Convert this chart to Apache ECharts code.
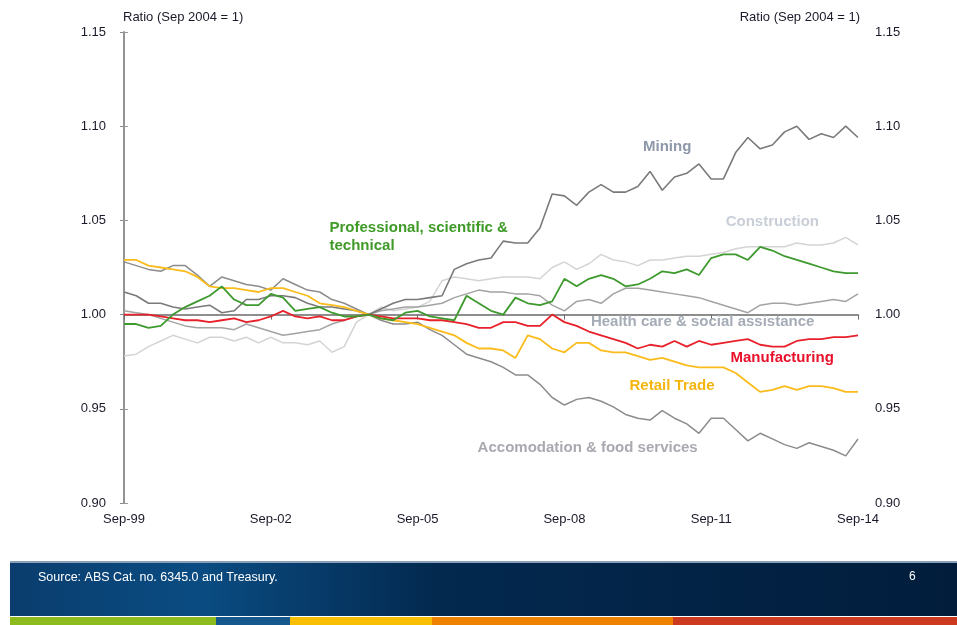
<!doctype html>
<html lang="en">
  <head>
    <meta charset="utf-8">
    <title>Industry ratio chart</title>
    <script src="https://cdn.jsdelivr.net/npm/echarts@6/dist/echarts.min.js"></script>
    <style>
      html, body { margin: 0; padding: 0; background: #fff; }
      #chart { width: 957px; height: 625px; }
    </style>
  </head>
  <body>
    <div id="chart"></div>
  <script>
    // quarterly labels, Sep-99 .. Sep-14 (61 quarters)
    var months = ['Sep', 'Dec', 'Mar', 'Jun'];
    var quarters = [];
    for (var i = 0; i <= 60; i++) {
      var yr = 1999 + Math.floor((i + 2) / 4);
      quarters.push(months[i % 4] + '-' + String(yr).slice(-2));
    }

    var mining = [1.012,1.010,1.006,1.006,1.004,1.003,1.004,1.005,1.001,1.002,1.008,1.008,1.010,1.010,1.009,1.006,1.004,1.004,1.003,1.002,1.000,
      1.003,1.006,1.008,1.008,1.009,1.010,1.024,1.027,1.029,1.030,1.039,1.038,1.038,1.046,1.064,1.063,1.058,1.065,1.069,1.065,
      1.065,1.068,1.076,1.066,1.073,1.075,1.080,1.072,1.072,1.086,1.094,1.088,1.090,1.097,1.100,1.093,1.096,1.094,1.100,1.094];
    var accommodation = [1.028,1.026,1.024,1.023,1.026,1.026,1.021,1.015,1.020,1.018,1.016,1.015,1.013,1.019,1.016,1.013,1.012,1.008,1.006,1.003,1.000,
      0.997,0.995,0.995,0.996,0.992,0.989,0.984,0.979,0.977,0.975,0.972,0.968,0.968,0.963,0.956,0.952,0.955,0.956,0.954,0.951,
      0.947,0.945,0.944,0.949,0.945,0.942,0.937,0.945,0.945,0.939,0.933,0.937,0.934,0.931,0.929,0.932,0.930,0.928,0.925,0.934];
    var retail = [1.029,1.029,1.026,1.025,1.024,1.023,1.020,1.015,1.014,1.014,1.013,1.012,1.014,1.014,1.012,1.010,1.006,1.005,1.004,1.002,1.000,
      0.998,0.997,0.996,0.995,0.993,0.991,0.989,0.985,0.982,0.982,0.981,0.977,0.989,0.987,0.982,0.980,0.985,0.985,0.981,0.980,
      0.980,0.978,0.976,0.977,0.975,0.973,0.972,0.972,0.972,0.969,0.964,0.959,0.960,0.962,0.960,0.962,0.962,0.961,0.959,0.959];
    var manufacturing = [1.000,1.000,1.000,0.999,0.998,0.997,0.997,0.996,0.997,0.998,0.996,0.997,0.999,1.002,0.999,0.998,0.999,0.997,0.997,0.999,1.000,
      0.999,0.998,0.998,0.998,0.997,0.997,0.996,0.995,0.993,0.993,0.996,0.996,0.994,0.994,1.000,0.996,0.994,0.991,0.989,0.987,
      0.985,0.982,0.984,0.983,0.986,0.983,0.986,0.984,0.985,0.986,0.987,0.984,0.983,0.983,0.986,0.987,0.987,0.988,0.988,0.989];
    var professional = [0.995,0.995,0.993,0.994,1.000,1.004,1.007,1.010,1.015,1.008,1.005,1.005,1.011,1.009,1.002,1.003,1.004,1.001,0.999,0.999,1.000,
      0.998,0.997,1.001,1.002,0.999,0.998,0.997,1.010,1.006,1.002,1.000,1.009,1.006,1.005,1.007,1.019,1.015,1.019,1.021,1.019,
      1.015,1.016,1.019,1.023,1.022,1.024,1.021,1.030,1.032,1.032,1.029,1.036,1.034,1.031,1.029,1.027,1.025,1.023,1.022,1.022];
    var health = [1.002,1.001,1.000,0.998,0.996,0.994,0.993,0.993,0.993,0.992,0.995,0.993,0.991,0.989,0.990,0.991,0.992,0.995,0.997,0.999,1.000,
      1.002,1.003,1.004,1.004,1.005,1.006,1.009,1.011,1.013,1.012,1.012,1.011,1.011,1.010,1.005,1.002,1.007,1.008,1.006,1.011,
      1.014,1.014,1.013,1.012,1.011,1.010,1.009,1.007,1.005,1.003,1.001,1.005,1.006,1.006,1.005,1.006,1.007,1.008,1.007,1.011];
    var construction = [0.978,0.979,0.983,0.986,0.989,0.987,0.985,0.988,0.988,0.986,0.988,0.985,0.988,0.985,0.985,0.984,0.986,0.980,0.983,0.996,1.000,
      1.004,1.002,1.003,1.004,1.007,1.018,1.020,1.019,1.018,1.019,1.020,1.020,1.020,1.019,1.025,1.028,1.024,1.027,1.032,1.029,
      1.028,1.026,1.029,1.029,1.030,1.031,1.031,1.032,1.033,1.035,1.036,1.036,1.036,1.036,1.038,1.037,1.037,1.038,1.041,1.037];

    var FONT = '"Liberation Sans", Arial, sans-serif';

    function pairs(arr) {
      return arr.map(function (v, i) { return [i, v]; });
    }

    // a text label placed at a data position, drawn on an invisible markPoint
    function tag(text, x, y, color, align) {
      return {
        symbol: 'circle', symbolSize: 1,
        itemStyle: { color: 'rgba(0,0,0,0)' },
        silent: true, animation: false,
        data: [{ coord: [x, y] }],
        label: {
          show: true, position: 'inside', formatter: text, color: color,
          fontFamily: FONT, fontSize: 15, fontWeight: 'bold',
          align: align || 'center', verticalAlign: 'middle', lineHeight: 18
        }
      };
    }

    function line(name, arr, color, width, z, mark) {
      return {
        name: name, type: 'line', data: pairs(arr), symbol: 'none',
        lineStyle: { color: color, width: width }, z: z,
        markPoint: mark, animation: false
      };
    }

    var chart = echarts.init(document.getElementById('chart'), null, { renderer: 'canvas' });

    var axisText = { color: '#1a1a2a', fontFamily: FONT, fontSize: 13 };

    var option = {
      animation: false,
      grid: { left: 124, right: 99, top: 32, bottom: 122 },
      xAxis: [{
        type: 'value', min: 0, max: 60, interval: 12,
        axisLine: { show: false }, axisTick: { show: false }, splitLine: { show: false },
        axisLabel: Object.assign({ formatter: function (v) { return quarters[v]; }, margin: 10 }, axisText)
      }, {
        // the 1.00 reference line with small ticks
        type: 'value', min: 0, max: 60, interval: 12, position: 'bottom', offset: -188.4,
        axisLine: { show: true, lineStyle: { color: '#6a6a6a', width: 1.5 } },
        axisTick: { show: true, length: 5, lineStyle: { color: '#6a6a6a' } },
        axisLabel: { show: false }, splitLine: { show: false }
      }],
      yAxis: [{
        type: 'value', min: 0.90, max: 1.15, interval: 0.05, position: 'left',
        axisLine: { show: true, lineStyle: { color: '#b0b0b0', width: 2 } },
        axisTick: { show: true, inside: true, length: 4, lineStyle: { color: '#999' } },
        splitLine: { show: false },
        axisLabel: Object.assign({ formatter: function (v) { return v.toFixed(2); }, margin: 18 }, axisText)
      }, {
        type: 'value', min: 0.90, max: 1.15, interval: 0.05, position: 'right',
        axisLine: { show: true, lineStyle: { color: '#8a8a8a', width: 1.5 } },
        axisTick: { show: true, inside: true, length: 4, lineStyle: { color: '#8a8a8a' } },
        splitLine: { show: false },
        axisLabel: Object.assign({ formatter: function (v) { return v.toFixed(2); }, margin: 17 }, axisText)
      }],
      series: [
        line('Construction', construction, '#d4d4d4', 1.5, 2, tag('Construction', 53.0, 1.0494, '#c9cfd7')),
        line('Health care & social assistance', health, '#a3a3a3', 1.5, 3, tag('Health care & social assistance', 47.3, 0.9963, '#a5acb6')),
        line('Mining', mining, '#7a7a7a', 1.6, 4, tag('Mining', 44.4, 1.0892, '#8e98a8')),
        line('Accomodation & food services', accommodation, '#8c8c8c', 1.5, 4, tag('Accomodation & food services', 37.9, 0.9294, '#a8aab0')),
        line('Retail Trade', retail, '#fbbb1a', 1.8, 5, tag('Retail Trade', 44.8, 0.9623, '#f5b50f')),
        line('Manufacturing', manufacturing, '#e8202a', 1.8, 6, tag('Manufacturing', 53.8, 0.9772, '#e8102a')),
        line('Professional, scientific & technical', professional, '#3e9a2e', 1.8, 7, tag('Professional, scientific &\ntechnical', 16.8, 1.0414, '#3f9a28', 'left'))
      ],
      graphic: [
        { type: 'text', left: 123, top: 11, style: { text: 'Ratio (Sep 2004 = 1)', fill: '#1a1a2a', font: '13px ' + FONT }, silent: true },
        { type: 'text', right: 97, top: 11, style: { text: 'Ratio (Sep 2004 = 1)', fill: '#1a1a2a', font: '13px ' + FONT }, silent: true },
        { type: 'rect', left: 10, top: 561, shape: { width: 947, height: 55 },
          style: { fill: new echarts.graphic.LinearGradient(0, 0, 1, 0, [
            { offset: 0, color: '#0a3d6e' }, { offset: 0.2, color: '#0a4c82' }, { offset: 0.45, color: '#03294f' }, { offset: 1, color: '#021d3c' }]) }, silent: true },
        { type: 'rect', left: 10, top: 561, shape: { width: 947, height: 2 }, style: { fill: '#8aa0b8' }, silent: true },
        { type: 'text', left: 38, top: 571, style: { text: 'Source: ABS Cat. no. 6345.0 and Treasury.', fill: '#ffffff', font: '12.5px ' + FONT }, silent: true },
        { type: 'text', left: 909, top: 571, style: { text: '6', fill: '#ffffff', font: '12px ' + FONT }, silent: true },
        { type: 'rect', left: 10, top: 617, shape: { width: 206, height: 8 }, style: { fill: '#8dba1c' }, silent: true },
        { type: 'rect', left: 216, top: 617, shape: { width: 74, height: 8 }, style: { fill: '#16598f' }, silent: true },
        { type: 'rect', left: 290, top: 617, shape: { width: 142, height: 8 }, style: { fill: '#f8bf00' }, silent: true },
        { type: 'rect', left: 432, top: 617, shape: { width: 241, height: 8 }, style: { fill: '#ee8200' }, silent: true },
        { type: 'rect', left: 673, top: 617, shape: { width: 284, height: 8 }, style: { fill: '#cc3a20' }, silent: true }
      ]
    };

    chart.setOption(option);
  </script>
  </body>
</html>
